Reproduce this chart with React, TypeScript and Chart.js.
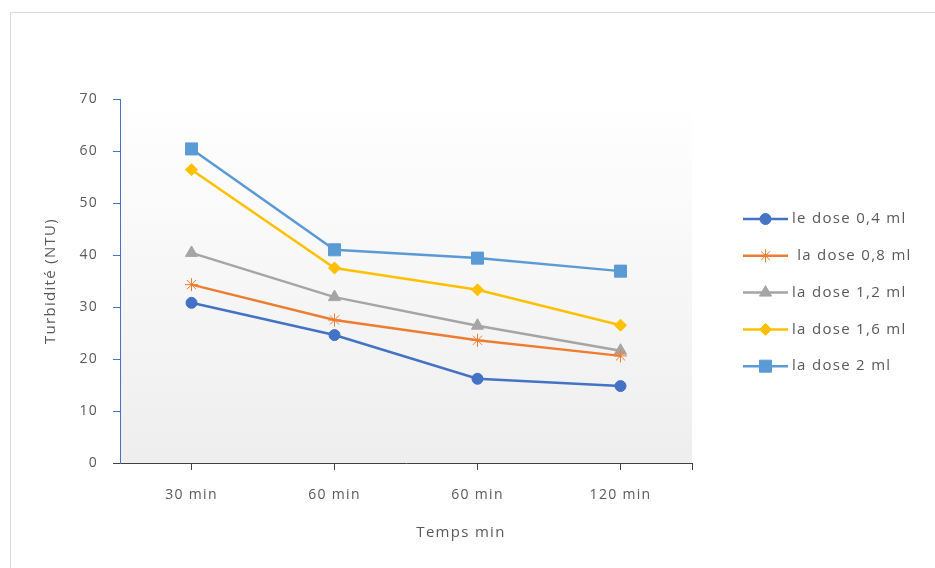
import React, { useEffect, useRef } from 'react';
import { Chart, registerables } from 'chart.js';
import { drawPoint } from 'chart.js/helpers';

Chart.register(...registerables);

const categories = ['30 min', '60 min', '60 min', '120 min'];
const seriesLabels = ['le dose 0,4 ml', ' la dose 0,8 ml', 'la dose 1,2 ml', 'la dose 1,6 ml', 'la dose 2 ml'];
const dose04 = [30.8, 24.6, 16.2, 14.8];
const dose08 = [34.3, 27.5, 23.6, 20.6];
const dose12 = [40.4, 31.9, 26.4, 21.6];
const dose16 = [56.4, 37.5, 33.3, 26.5];
const dose20 = [60.4, 41.0, 39.4, 36.9];
const yTicks = [0, 10, 20, 30, 40, 50, 60, 70];
const xTitle = 'Temps min';
const yTitle = 'Turbidité (NTU)';

const colors = ['#4472C4', '#ED7D31', '#A5A5A5', '#FFC000', '#5B9BD5'];
const styles = ['circle', 'star', 'triangle', 'rectRot', 'rect'];
const radii = [5.5, 6.5, 7, 6, 8.5];
const values = [dose04, dose08, dose12, dose16, dose20];

const FONT = '"Open Sans", "Noto Sans", sans-serif';
const TEXT = '#595959';
const SPACING = '1.3px';

const bgPlugin = {
  id: 'bgGradient',
  beforeDraw(chart: any) {
    const { ctx, chartArea } = chart;
    (ctx as any).letterSpacing = SPACING;
    const g = ctx.createLinearGradient(0, chartArea.top, 0, chartArea.bottom);
    g.addColorStop(0, '#ffffff');
    g.addColorStop(1, '#eeeeee');
    ctx.save();
    ctx.fillStyle = g;
    ctx.fillRect(chartArea.left, chartArea.top, chartArea.right - chartArea.left, chartArea.bottom - chartArea.top);
    ctx.restore();
  },
  afterDraw(chart: any) {
    const { ctx, chartArea } = chart;
    ctx.save();
    ctx.strokeStyle = '#404040';
    ctx.lineWidth = 1;
    ctx.beginPath();
    ctx.moveTo(chartArea.right + 0.5, chartArea.bottom);
    ctx.lineTo(chartArea.right + 0.5, chartArea.bottom + 7);
    ctx.moveTo(chartArea.left - 7, chartArea.bottom + 0.5);
    ctx.lineTo(chartArea.left, chartArea.bottom + 0.5);
    ctx.stroke();
    // x axis title
    ctx.fillStyle = TEXT;
    ctx.font = `15px ${FONT}`;
    ctx.textAlign = 'center';
    ctx.textBaseline = 'middle';
    ctx.fillText(xTitle, 461, 533);
    ctx.restore();
  },
};

const legendPlugin = {
  id: 'lineLegend',
  afterDraw(chart: any) {
    const ctx = chart.ctx;
    const x0 = 743;
    const x1 = 788;
    const y0 = 219;
    const gap = 36.8;
    chart.data.datasets.forEach((ds: any, i: number) => {
      const y = y0 + i * gap;
      ctx.save();
      ctx.strokeStyle = ds.borderColor;
      ctx.fillStyle = ds.backgroundColor;
      ctx.lineWidth = 2.5;
      ctx.beginPath();
      ctx.moveTo(x0, y);
      ctx.lineTo(x1, y);
      ctx.stroke();
      ctx.lineWidth = 1;
      drawPoint(ctx, { pointStyle: ds.pointStyle, radius: ds.pointRadius, borderWidth: 1, rotation: 0 } as any, (x0 + x1) / 2, y);
      ctx.fillStyle = TEXT;
      ctx.font = `15px ${FONT}`;
      ctx.textBaseline = 'middle';
      ctx.textAlign = 'left';
      ctx.fillText(ds.label, x1 + 4, y);
      ctx.restore();
    });
  },
};

export default function App() {
  const ref = useRef<HTMLCanvasElement | null>(null);
  useEffect(() => {
    if (!ref.current) return;
    const chart = new Chart(ref.current, {
      type: 'line',
      data: {
        labels: categories,
        datasets: values.map((v, i) => ({
          label: seriesLabels[i],
          data: v,
          borderColor: colors[i],
          backgroundColor: colors[i],
          pointBackgroundColor: colors[i],
          pointBorderColor: colors[i],
          pointStyle: styles[i] as any,
          pointRadius: radii[i],
          pointBorderWidth: 1,
          borderWidth: 2.5,
          tension: 0,
        })),
      },
      options: {
        animation: false,
        responsive: false,
        maintainAspectRatio: false,
        layout: { padding: { left: 0, top: 99, right: 243, bottom: 0 } },
        plugins: { legend: { display: false }, tooltip: { enabled: false } },
        scales: {
          x: {
            offset: true,
            afterFit: (s: any) => { s.height = 105; },
            grid: { drawOnChartArea: false, offset: false, tickLength: 7, color: '#404040' },
            border: { color: '#404040', width: 1 },
            ticks: { color: TEXT, font: { family: FONT, size: 14 }, padding: 17 },
            title: { display: false, text: xTitle },
          },
          y: {
            min: 0,
            max: 70,
            afterFit: (s: any) => { s.width = 120; },
            afterBuildTicks: (s: any) => { s.ticks = yTicks.map((v) => ({ value: v })); },
            grid: { drawOnChartArea: false, tickLength: 7, color: '#4472C4' },
            border: { color: '#4472C4', width: 1 },
            ticks: { color: TEXT, font: { family: FONT, size: 14 }, padding: 15 },
            title: { display: true, text: yTitle, color: TEXT, font: { family: FONT, size: 15 }, padding: { top: 42, bottom: 0 } },
          },
        },
      },
      plugins: [bgPlugin, legendPlugin],
    });
    return () => chart.destroy();
  }, []);
  return (
    <div style={{ position: 'absolute', left: 0, top: 0, width: 935, height: 568, background: '#fff', overflow: 'hidden' }}>
      <div style={{ position: 'absolute', left: 10, top: 12, width: 960, height: 600, border: '1px solid #d9d9d9', boxSizing: 'border-box' }} />
      <canvas ref={ref} width={935} height={568} style={{ position: 'absolute', left: 0, top: 0 }} />
    </div>
  );
}
